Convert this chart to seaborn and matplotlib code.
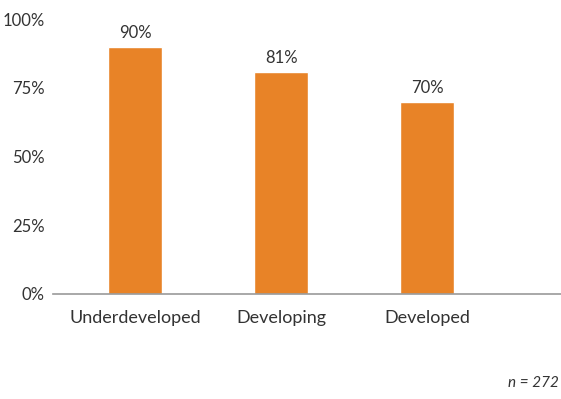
import matplotlib
matplotlib.use("Agg")
import matplotlib.pyplot as plt
import seaborn as sns
import pandas as pd

categories = ["Underdeveloped", "Developing", "Developed"]
values = [90, 81, 70]
bar_labels = ["90%", "81%", "70%"]
yticks = [0, 25, 50, 75, 100]
ytick_labels = ["0%", "25%", "50%", "75%", "100%"]
note = "n = 272"

sns.set_theme(style="white")
plt.rcParams["font.family"] = ["Lato", "DejaVu Sans"]

df = pd.DataFrame({"category": categories, "value": values})

fig = plt.figure(figsize=(5.61, 3.99), dpi=100)
ax = fig.add_axes([53/561, (399-293.5)/399, (561-53)/561, (293.5-19.5)/399])
sns.barplot(data=df, x="category", y="value", color="#E88327", width=0.37,
            saturation=1, ax=ax)
ax.set_xlim(-0.565, 2.918)
ax.set_ylim(0, 100)
ax.set_yticks(yticks)
ax.set_yticklabels(ytick_labels)
ax.set_xlabel("")
ax.set_ylabel("")
for s in ["top", "right", "left"]:
    ax.spines[s].set_visible(False)
ax.spines["bottom"].set_color("#999999")
ax.spines["bottom"].set_linewidth(1.2)
ax.tick_params(axis="y", length=0, pad=6, labelsize=12, labelcolor="#333333")
ax.tick_params(axis="x", length=0, pad=12, labelsize=13, labelcolor="#333333")
for cont in ax.containers:
    ax.bar_label(cont, labels=bar_labels, padding=4, fontsize=12, color="#333333")
fig.text(0.997, 1 - 383/399, note, ha="right", va="center",
         fontsize=11, style="italic", color="#333333")
fig.savefig("out.png", dpi=100)
